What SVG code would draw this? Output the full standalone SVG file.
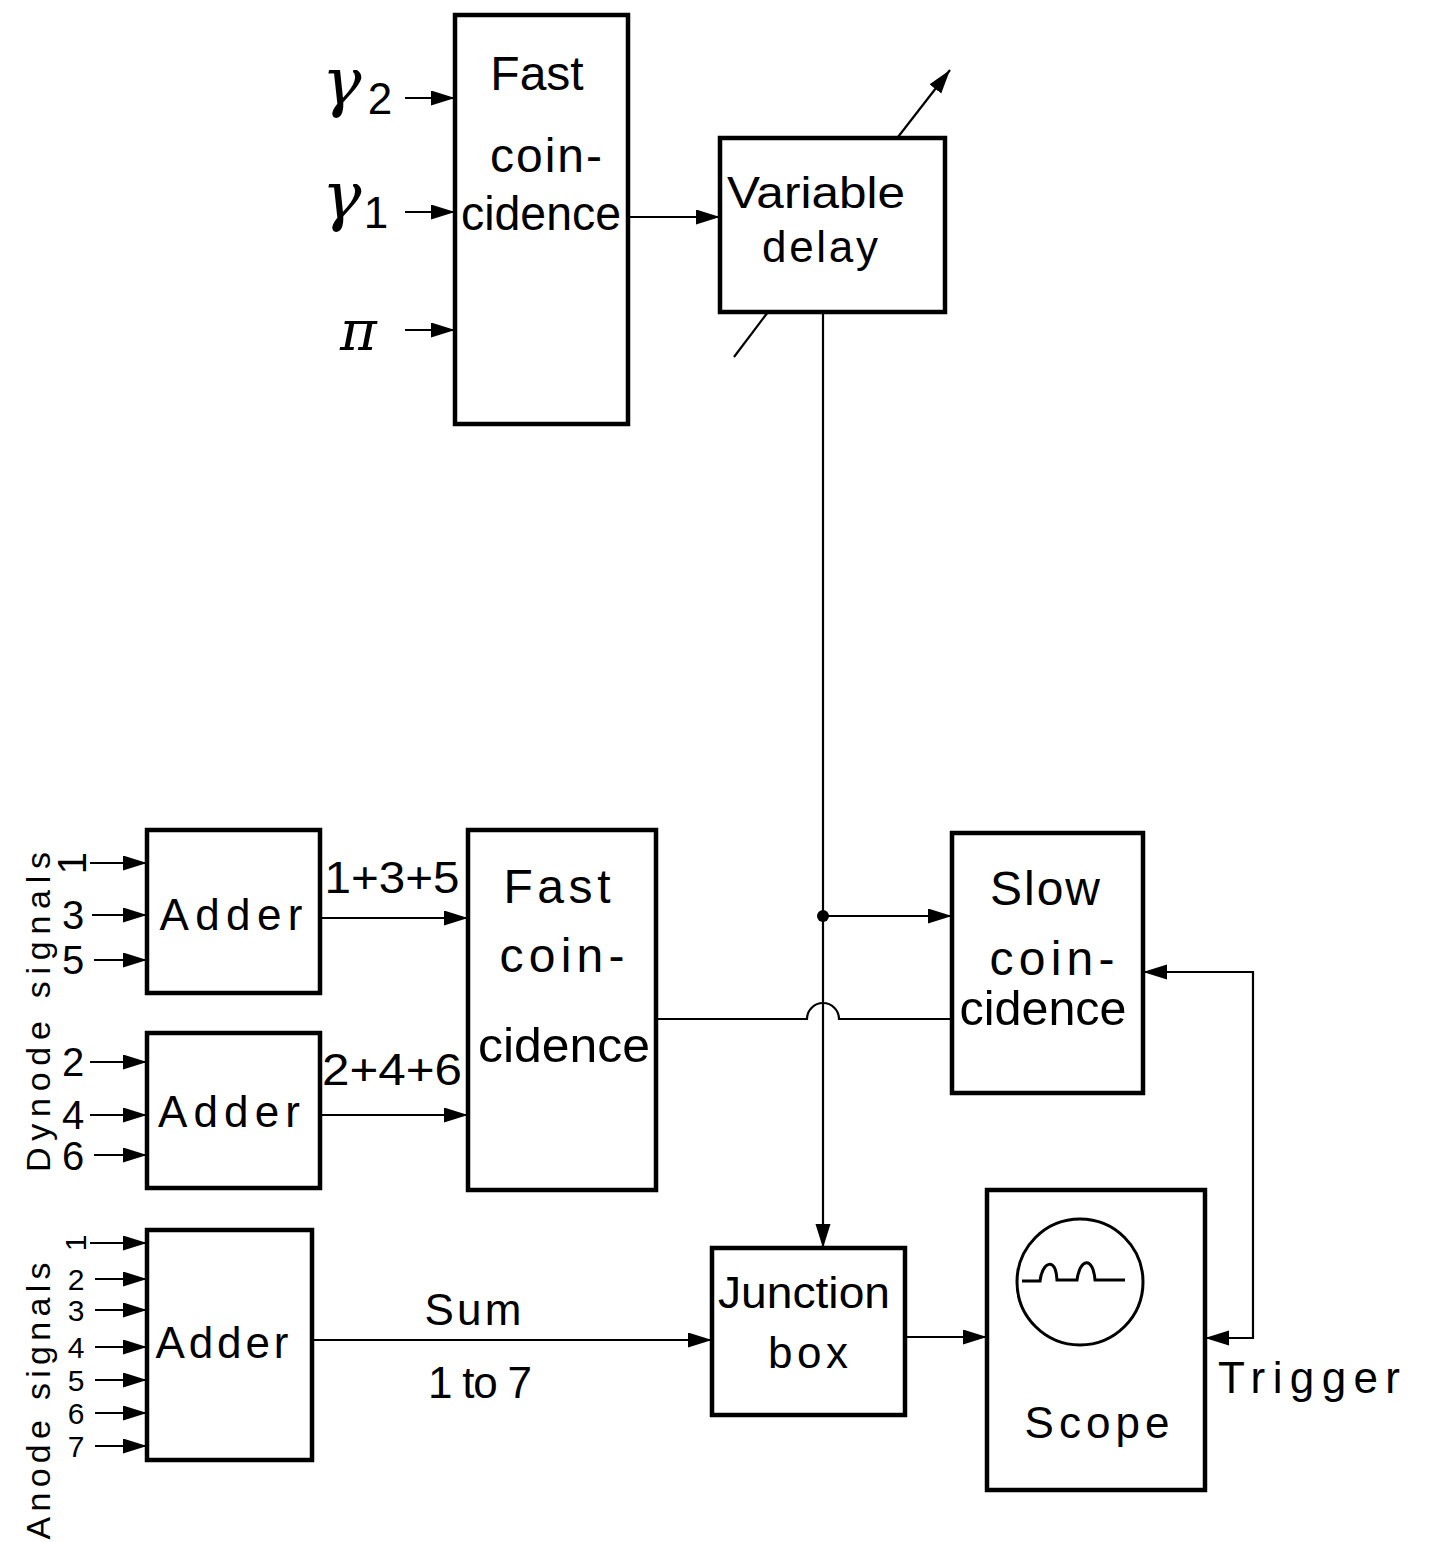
<svg xmlns="http://www.w3.org/2000/svg" width="1429" height="1542" viewBox="0 0 1429 1542">
<style>
.box{fill:#fff;stroke:#000;stroke-width:4.5}
.ln{fill:none;stroke:#000;stroke-width:2.2}
.t{font-family:"Liberation Sans",Arial,sans-serif;fill:#000;text-anchor:middle}
.big{font-size:48px}
.mid{font-size:44px}
.dg{font-size:40px}
.sm{font-size:34px}
.an{font-size:30px}
.g{font-family:"DejaVu Serif","Liberation Serif",serif;font-style:italic;fill:#000}
</style>
<defs>
<marker id="ah" markerUnits="userSpaceOnUse" markerWidth="26" markerHeight="16" refX="24" refY="7.5" orient="auto">
<path d="M0,0 L24,7.5 L0,15 z" fill="#000"/>
</marker>
</defs>
<rect width="1429" height="1542" fill="#fff"/>

<g id="connectors">
<line class="ln" x1="405" y1="98" x2="455" y2="98" marker-end="url(#ah)"/>
<line class="ln" x1="405" y1="212" x2="455" y2="212" marker-end="url(#ah)"/>
<line class="ln" x1="405" y1="330" x2="455" y2="330" marker-end="url(#ah)"/>
<line class="ln" x1="628" y1="217" x2="720" y2="217" marker-end="url(#ah)"/>
<line class="ln" x1="734" y1="357" x2="768" y2="312"/>
<line class="ln" x1="898" y1="137" x2="950" y2="70" marker-end="url(#ah)"/>
<line class="ln" x1="823" y1="312" x2="823" y2="1248" marker-end="url(#ah)"/>
<circle cx="823" cy="916" r="6" fill="#000"/>
<line class="ln" x1="823" y1="916" x2="952" y2="916" marker-end="url(#ah)"/>
<path class="ln" d="M656,1019 H807 A16,16 0 0 1 839,1019 H952"/>
<path class="ln" d="M1253,1150 V972 H1143" marker-end="url(#ah)"/>
<path class="ln" d="M1253,1150 V1338 H1205" marker-end="url(#ah)"/>
<line class="ln" x1="90" y1="863" x2="147" y2="863" marker-end="url(#ah)"/>
<line class="ln" x1="92" y1="915" x2="147" y2="915" marker-end="url(#ah)"/>
<line class="ln" x1="94" y1="960" x2="147" y2="960" marker-end="url(#ah)"/>
<line class="ln" x1="90" y1="1062" x2="147" y2="1062" marker-end="url(#ah)"/>
<line class="ln" x1="90" y1="1115" x2="147" y2="1115" marker-end="url(#ah)"/>
<line class="ln" x1="94" y1="1155" x2="147" y2="1155" marker-end="url(#ah)"/>
<line class="ln" x1="320" y1="918" x2="468" y2="918" marker-end="url(#ah)"/>
<line class="ln" x1="320" y1="1115" x2="468" y2="1115" marker-end="url(#ah)"/>
<line class="ln" x1="90" y1="1243" x2="147" y2="1243" marker-end="url(#ah)"/>
<line class="ln" x1="95" y1="1279" x2="147" y2="1279" marker-end="url(#ah)"/>
<line class="ln" x1="95" y1="1310" x2="147" y2="1310" marker-end="url(#ah)"/>
<line class="ln" x1="95" y1="1347" x2="147" y2="1347" marker-end="url(#ah)"/>
<line class="ln" x1="95" y1="1380" x2="147" y2="1380" marker-end="url(#ah)"/>
<line class="ln" x1="95" y1="1413" x2="147" y2="1413" marker-end="url(#ah)"/>
<line class="ln" x1="95" y1="1446" x2="147" y2="1446" marker-end="url(#ah)"/>
<line class="ln" x1="312" y1="1340" x2="712" y2="1340" marker-end="url(#ah)"/>
<line class="ln" x1="905" y1="1337" x2="987" y2="1337" marker-end="url(#ah)"/>
</g>

<g id="inputs-top">
<text class="g" x="322" y="104" font-size="66">γ</text><text class="t" x="380" y="114" font-size="44">2</text>
<text class="g" x="322" y="218" font-size="66">γ</text><text class="t" x="376" y="228" font-size="44">1</text>
<text class="g" x="340" y="350" font-size="56">π</text>
</g>

<g id="fast-coincidence-top">
<rect class="box" x="455" y="15" width="173" height="409"/>
<text class="t big" x="537" y="90">Fast</text>
<text class="t big" x="546" y="172" textLength="112" lengthAdjust="spacing">coin-</text>
<text class="t big" x="541" y="230" textLength="160" lengthAdjust="spacingAndGlyphs">cidence</text>
</g>

<g id="variable-delay">
<rect class="box" x="720" y="138" width="225" height="174"/>
<text class="t mid" x="816" y="208" textLength="178" lengthAdjust="spacingAndGlyphs">Variable</text>
<text class="t mid" x="820" y="262" textLength="116" lengthAdjust="spacing">delay</text>
</g>

<g id="dynode-labels">
<text class="t sm" transform="translate(50,1012) rotate(-90)" textLength="320" lengthAdjust="spacing">Dynode signals</text>
<text class="t dg" transform="translate(86,863) rotate(-90)">1</text>
<text class="t dg" x="73" y="929">3</text>
<text class="t dg" x="73" y="974">5</text>
<text class="t dg" x="73" y="1076">2</text>
<text class="t dg" x="73" y="1129">4</text>
<text class="t dg" x="73" y="1170">6</text>
</g>

<g id="adder-1">
<rect class="box" x="147" y="830" width="173" height="163"/>
<text class="t mid" x="231" y="930" textLength="143" lengthAdjust="spacing">Adder</text>
</g>
<g id="adder-2">
<rect class="box" x="147" y="1033" width="173" height="155"/>
<text class="t mid" x="229" y="1127" textLength="142" lengthAdjust="spacing">Adder</text>
</g>
<text class="t mid" x="392" y="893" textLength="135" lengthAdjust="spacingAndGlyphs">1+3+5</text>
<text class="t mid" x="392" y="1085" textLength="140" lengthAdjust="spacingAndGlyphs">2+4+6</text>

<g id="fast-coincidence-mid">
<rect class="box" x="468" y="830" width="188" height="360"/>
<text class="t big" x="557" y="903" textLength="107" lengthAdjust="spacing">Fast</text>
<text class="t big" x="562" y="972" textLength="125" lengthAdjust="spacing">coin-</text>
<text class="t big" x="564" y="1062" textLength="172" lengthAdjust="spacingAndGlyphs">cidence</text>
</g>

<g id="slow-coincidence">
<rect class="box" x="952" y="833" width="191" height="260"/>
<text class="t big" x="1045" y="905" textLength="110" lengthAdjust="spacing">Slow</text>
<text class="t big" x="1052" y="975" textLength="125" lengthAdjust="spacing">coin-</text>
<text class="t big" x="1043" y="1025" textLength="167" lengthAdjust="spacingAndGlyphs">cidence</text>
</g>

<g id="anode-labels">
<text class="t sm" transform="translate(50,1401) rotate(-90)" textLength="277" lengthAdjust="spacing">Anode signals</text>
<text class="t an" transform="translate(86,1243) rotate(-90)">1</text>
<text class="t an" x="76" y="1290">2</text>
<text class="t an" x="76" y="1321">3</text>
<text class="t an" x="76" y="1358">4</text>
<text class="t an" x="76" y="1391">5</text>
<text class="t an" x="76" y="1424">6</text>
<text class="t an" x="76" y="1457">7</text>
</g>

<g id="adder-3">
<rect class="box" x="147" y="1230" width="165" height="230"/>
<text class="t mid" x="222" y="1358" textLength="133" lengthAdjust="spacing">Adder</text>
</g>
<text class="t mid" x="473" y="1325" textLength="97" lengthAdjust="spacing">Sum</text>
<text class="t mid" x="480" y="1398" textLength="104" lengthAdjust="spacing">1 to 7</text>

<g id="junction-box">
<rect class="box" x="712" y="1248" width="193" height="167"/>
<text class="t mid" x="804" y="1308" textLength="172" lengthAdjust="spacingAndGlyphs">Junction</text>
<text class="t mid" x="808" y="1368" textLength="80" lengthAdjust="spacing">box</text>
</g>

<g id="scope">
<rect class="box" x="987" y="1190" width="218" height="300"/>
<circle cx="1080" cy="1282" r="63" fill="none" stroke="#000" stroke-width="3"/>
<path d="M1022,1281 H1040 C1042,1262 1056,1256 1057,1280 H1077 C1080,1258 1093,1256 1095,1280 H1125" fill="none" stroke="#000" stroke-width="3"/>
<text class="t mid" x="1097" y="1438" textLength="145" lengthAdjust="spacing">Scope</text>
</g>
<text class="t mid" x="1309" y="1393" textLength="182" lengthAdjust="spacing">Trigger</text>
</svg>
